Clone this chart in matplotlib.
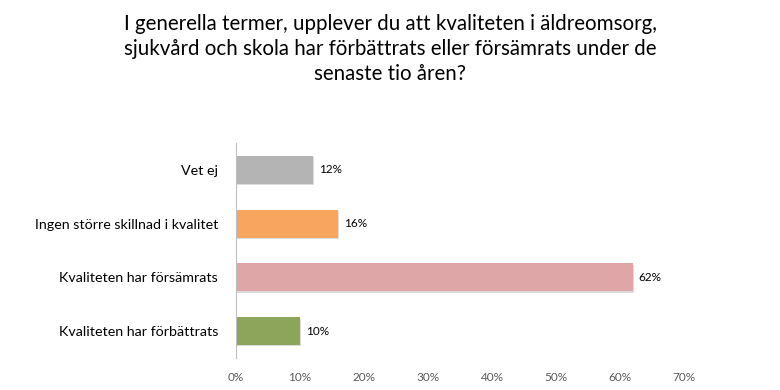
import matplotlib
matplotlib.use("Agg")
import matplotlib.pyplot as plt
from matplotlib.ticker import FuncFormatter

categories = ["Kvaliteten har förbättrats", "Kvaliteten har försämrats",
              "Ingen större skillnad i kvalitet", "Vet ej"]
values = [0.10, 0.62, 0.16, 0.12]
colors = ["#8ca55a", "#dea6a6", "#f8a65f", "#b4b4b4"]
title = ("I generella termer, upplever du att kvaliteten i äldreomsorg,\n"
         "sjukvård och skola har förbättrats eller försämrats under de\n"
         "senaste tio åren?")

plt.rcParams["font.family"] = ["Lato", "DejaVu Sans"]

fig = plt.figure(figsize=(7.8, 3.9), dpi=100)
ax = fig.add_axes([0.3026, 0.082, 0.5744, 0.551])

y = range(len(categories))
# soft shadow behind bars
ax.barh([i - 0.025 for i in y], values, height=0.52, left=0.0015,
        color="#dcdcdc", zorder=1)
ax.barh(y, values, height=0.52, color=colors, zorder=2)

for i, v in enumerate(values):
    ax.text(v + 0.009, i, f"{round(v * 100)}%", va="center", ha="left",
            fontsize=8.5, color="black")

ax.set_xlim(0, 0.7)
ax.set_ylim(-0.5, 3.5)
ax.set_xticks([0, 0.1, 0.2, 0.3, 0.4, 0.5, 0.6, 0.7])
ax.xaxis.set_major_formatter(FuncFormatter(lambda x, _: f"{round(x * 100)}%"))
ax.set_yticks(list(y))
ax.set_yticklabels(categories, fontsize=10.3, color="black")
ax.tick_params(axis="x", length=0, labelsize=8.5, labelcolor="#595959", pad=10)
ax.tick_params(axis="y", length=0, pad=13)

for s in ["top", "right", "bottom"]:
    ax.spines[s].set_visible(False)
ax.spines["left"].set_color("#bfbfbf")

fig.text(0.5, 0.965, title, ha="center", va="top", fontsize=14.8,
         linespacing=1.32, color="black")

fig.savefig("out.png", dpi=100)
